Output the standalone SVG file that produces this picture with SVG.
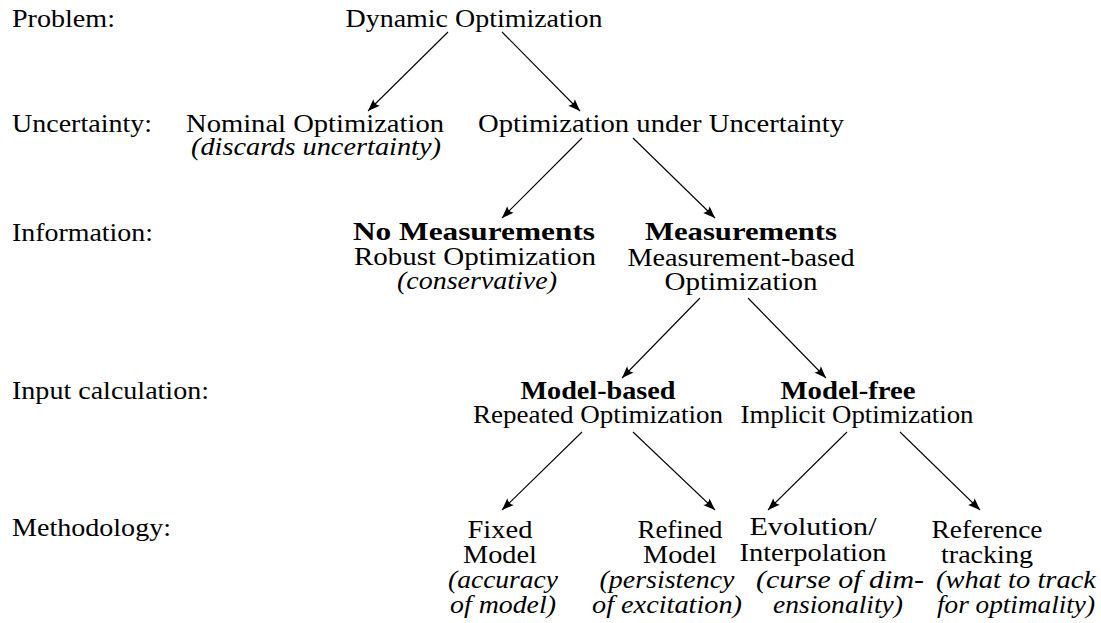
<svg xmlns="http://www.w3.org/2000/svg" width="1101" height="623" viewBox="0 0 1101 623">
  <style>
    text { font-family: "Liberation Serif", "DejaVu Serif", serif; font-size: 25px; fill: #000; }
    .c { text-anchor: middle; }
    .b { font-weight: bold; }
    .i { font-style: italic; }
    .edge { stroke: #000; stroke-width: 1.1; fill: none; marker-end: url(#tip); }
  </style>
  <defs>
    <!-- LaTeX-style filled arrow tip -->
    <marker id="tip" markerUnits="userSpaceOnUse" viewBox="-13 -5.5 14 11" refX="0" refY="0" markerWidth="14" markerHeight="11" orient="auto">
      <path d="M0,0 L-12,-4.6 Q-8.5,0 -12,4.6 Z" fill="#000"/>
    </marker>
  </defs>
  <rect width="1101" height="623" fill="#fff"/>

  <!-- level captions; glyphs widened to Computer Modern proportions via textLength -->
  <g id="levels">
    <text x="12" y="27" textLength="103" lengthAdjust="spacingAndGlyphs">Problem:</text>
    <text x="12" y="132" textLength="140" lengthAdjust="spacingAndGlyphs">Uncertainty:</text>
    <text x="12" y="241" textLength="141" lengthAdjust="spacingAndGlyphs">Information:</text>
    <text x="12" y="399" textLength="197" lengthAdjust="spacingAndGlyphs">Input calculation:</text>
    <text x="12" y="536" textLength="159" lengthAdjust="spacingAndGlyphs">Methodology:</text>
  </g>

  <g id="connectors">
    <line class="edge" x1="448" y1="32" x2="368" y2="111"/>
    <line class="edge" x1="502" y1="32" x2="580" y2="111"/>
    <line class="edge" x1="582" y1="138" x2="502" y2="218"/>
    <line class="edge" x1="633" y1="138" x2="715" y2="218"/>
    <line class="edge" x1="700" y1="298" x2="622" y2="378"/>
    <line class="edge" x1="748" y1="298" x2="826" y2="378"/>
    <line class="edge" x1="582" y1="432" x2="502" y2="510"/>
    <line class="edge" x1="633" y1="432" x2="715" y2="510"/>
    <line class="edge" x1="847" y1="432" x2="768" y2="510"/>
    <line class="edge" x1="900" y1="432" x2="980" y2="510"/>
  </g>

  <g id="dynamic-optimization">
    <text class="c" x="474" y="27" textLength="257" lengthAdjust="spacingAndGlyphs">Dynamic Optimization</text>
  </g>

  <g id="nominal-optimization">
    <text class="c" x="315" y="132" textLength="258" lengthAdjust="spacingAndGlyphs">Nominal Optimization</text>
    <text class="c i" x="316" y="155" textLength="250" lengthAdjust="spacingAndGlyphs">(discards uncertainty)</text>
  </g>

  <g id="optimization-under-uncertainty">
    <text class="c" x="661" y="132" textLength="366" lengthAdjust="spacingAndGlyphs">Optimization under Uncertainty</text>
  </g>

  <g id="no-measurements">
    <text class="c b" x="474" y="240" textLength="242" lengthAdjust="spacingAndGlyphs">No Measurements</text>
    <text class="c" x="475" y="265" textLength="242" lengthAdjust="spacingAndGlyphs">Robust Optimization</text>
    <text class="c i" x="477" y="289" textLength="160" lengthAdjust="spacingAndGlyphs">(conservative)</text>
  </g>

  <g id="measurements">
    <text class="c b" x="741" y="240" textLength="192" lengthAdjust="spacingAndGlyphs">Measurements</text>
    <text class="c" x="741" y="266" textLength="227" lengthAdjust="spacingAndGlyphs">Measurement-based</text>
    <text class="c" x="741" y="290" textLength="153" lengthAdjust="spacingAndGlyphs">Optimization</text>
  </g>

  <g id="model-based">
    <text class="c b" x="598" y="399" textLength="155" lengthAdjust="spacingAndGlyphs">Model-based</text>
    <text class="c" x="598" y="423" textLength="250" lengthAdjust="spacingAndGlyphs">Repeated Optimization</text>
  </g>

  <g id="model-free">
    <text class="c b" x="848" y="399" textLength="135" lengthAdjust="spacingAndGlyphs">Model-free</text>
    <text class="c" x="857" y="423" textLength="233" lengthAdjust="spacingAndGlyphs">Implicit Optimization</text>
  </g>

  <g id="fixed-model">
    <text class="c" x="500" y="538" textLength="65" lengthAdjust="spacingAndGlyphs">Fixed</text>
    <text class="c" x="500" y="563" textLength="74" lengthAdjust="spacingAndGlyphs">Model</text>
    <text class="c i" x="503" y="588" textLength="110" lengthAdjust="spacingAndGlyphs">(accuracy</text>
    <text class="c i" x="503" y="613" textLength="106" lengthAdjust="spacingAndGlyphs">of model)</text>
  </g>

  <g id="refined-model">
    <text class="c" x="680" y="538" textLength="85" lengthAdjust="spacingAndGlyphs">Refined</text>
    <text class="c" x="680" y="563" textLength="74" lengthAdjust="spacingAndGlyphs">Model</text>
    <text class="c i" x="667" y="588" textLength="135" lengthAdjust="spacingAndGlyphs">(persistency</text>
    <text class="c i" x="667" y="613" textLength="150" lengthAdjust="spacingAndGlyphs">of excitation)</text>
  </g>

  <g id="evolution-interpolation">
    <text class="c" x="813" y="535" textLength="127" lengthAdjust="spacingAndGlyphs">Evolution/</text>
    <text class="c" x="813" y="561" textLength="147" lengthAdjust="spacingAndGlyphs">Interpolation</text>
    <text class="c i" x="840" y="588" textLength="168" lengthAdjust="spacingAndGlyphs">(curse of dim-</text>
    <text class="c i" x="838" y="613" textLength="130" lengthAdjust="spacingAndGlyphs">ensionality)</text>
  </g>

  <g id="reference-tracking">
    <text class="c" x="987" y="538" textLength="111" lengthAdjust="spacingAndGlyphs">Reference</text>
    <text class="c" x="987" y="563" textLength="92" lengthAdjust="spacingAndGlyphs">tracking</text>
    <text class="c i" x="1016" y="588" textLength="160" lengthAdjust="spacingAndGlyphs">(what to track</text>
    <text class="c i" x="1016" y="613" textLength="158" lengthAdjust="spacingAndGlyphs">for optimality)</text>
  </g>
</svg>
